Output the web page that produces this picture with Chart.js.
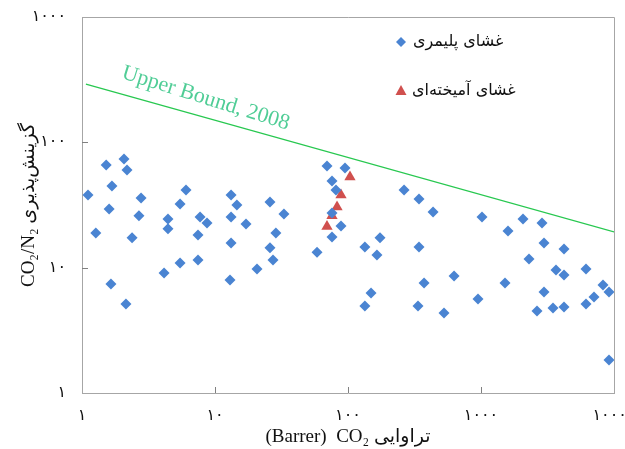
<!DOCTYPE html>
<html><head><meta charset="utf-8">
<style>html,body{margin:0;padding:0;background:#fff}#wrap{width:625px;height:449px}</style>
<script src="https://cdn.jsdelivr.net/npm/chart.js@4/dist/chart.umd.min.js"></script>
</head><body><div id="wrap"><canvas id="c" width="625" height="449"></canvas></div>
<script>
// ---- data ----
const polymerX = [1.11,1.27,1.52,1.60,1.68,1.65,2.07,2.18,2.14,2.38,2.68,2.78,4.14,4.43,4.43,5.46,5.46,6.05,7.45,7.45,7.72,8.71,
  13.2,14.6,13.2,17.1,13.2,12.96,20.7,25.9,33.0,28.7,25.9,27.3,58.5,69.5,94.9,75.8,81.2,75.8,88.6,75.8,
  134,174,165,149,134,264,342,436,342,373,336,627,527,949,1017,1515,1596,2069,2874,2976,2296,4209,3664,4209,6159,
  2976,2638,3479,4209,6159,7072,8267,9171,9171];
const polymerY = [38.0,18.9,66.0,29.4,44.9,7.41,73.7,60.2,5.13,17.3,25.9,36.0,9.07,24.5,20.4,32.2,10.9,41.7,18.2,11.5,25.4,22.7,
  38.0,31.6,25.4,22.3,15.7,7.98,9.76,33.4,26.8,18.9,14.4,11.5,13.3,64.8,62.5,49.2,41.7,27.3,21.5,17.6,
  14.6,17.3,12.6,6.28,4.95,41.7,35.3,27.8,14.6,7.55,4.95,8.58,4.35,5.63,25.4,7.55,19.6,24.5,22.7,15.7,11.7,14.1,9.58,8.74,9.76,
  6.40,4.51,4.77,4.86,5.13,5.84,7.28,6.40,1.83];
const mixedX = [103.5,88.6,82.7,75.8,69.5];
const mixedY = [52.9,38.0,30.5,25.9,21.3];
const boundX = [1.07,10000];
const boundY = [292,19.3];
const boundLabelAt = [1.96,326];
const xTicks = [1,10,100,1000,10000];
const xTickLabels = ['۱','۱۰','۱۰۰','۱۰۰۰','۱۰۰۰۰'];
const yTicks = [1,10,100,1000];
const yTickLabels = ['۱','۱۰','۱۰۰','۱۰۰۰'];
const seriesNames = ['غشای پلیمری','غشای آمیخته‌ای'];
const boundLabel = 'Upper Bound, 2008';
const xTitle = '(Barrer)  CO₂ تراوایی';
const yTitle = 'CO₂/N₂ گزینش‌پذیری';

const BLUE = 'rgb(74,132,210)';
const RED = 'rgb(208,80,78)';
const AXIS = '#a6a6a6';
const toPts = (xs, ys) => xs.map((x, i) => ({x, y: ys[i]}));

const extras = {
  id: 'extras',
  afterDraw(chart) {
    const {ctx, chartArea: a, scales: {x, y}} = chart;
    ctx.save();
    // frame top/right
    ctx.strokeStyle = AXIS; ctx.lineWidth = 1;
    ctx.beginPath();
    ctx.moveTo(a.left, a.top + 0.5); ctx.lineTo(a.right + 0.5, a.top + 0.5); ctx.lineTo(a.right + 0.5, a.bottom);
    ctx.stroke();
    // inward ticks
    ctx.strokeStyle = '#808080';
    ctx.beginPath();
    xTicks.slice(1, -1).forEach(v => { const px = Math.round(x.getPixelForValue(v)) + 0.5; ctx.moveTo(px, a.bottom); ctx.lineTo(px, a.bottom - 6); });
    yTicks.slice(1, -1).forEach(v => { const py = Math.round(y.getPixelForValue(v)) + 0.5; ctx.moveTo(a.left, py); ctx.lineTo(a.left + 6, py); });
    ctx.stroke();
    // upper bound label
    ctx.save();
    ctx.translate(x.getPixelForValue(boundLabelAt[0]), y.getPixelForValue(boundLabelAt[1]));
    ctx.rotate(17.3 * Math.PI / 180);
    ctx.fillStyle = 'rgb(80,205,150)';
    ctx.font = '22px "Liberation Serif", serif';
    ctx.textAlign = 'left'; ctx.textBaseline = 'alphabetic';
    ctx.fillText(boundLabel, 0, 0);
    ctx.restore();
    // legend
    const lx = a.left + 319, ly1 = a.top + 25, ly2 = a.top + 74;
    ctx.fillStyle = BLUE;
    ctx.beginPath(); ctx.moveTo(lx, ly1 - 5); ctx.lineTo(lx + 5, ly1); ctx.lineTo(lx, ly1 + 5); ctx.lineTo(lx - 5, ly1); ctx.closePath(); ctx.fill();
    ctx.fillStyle = RED;
    ctx.beginPath(); ctx.moveTo(lx, ly2 - 6); ctx.lineTo(lx + 5.5, ly2 + 4); ctx.lineTo(lx - 5.5, ly2 + 4); ctx.closePath(); ctx.fill();
    ctx.fillStyle = '#111';
    ctx.font = '16px "DejaVu Sans", sans-serif';
    ctx.textAlign = 'left'; ctx.textBaseline = 'middle';
    ctx.fillText(seriesNames[0], lx + 12, ly1);
    ctx.fillText(seriesNames[1], lx + 11, ly2);
    ctx.restore();
  }
};

new Chart(document.getElementById('c'), {
  type: 'scatter',
  data: {
    datasets: [
      {label: seriesNames[0], data: toPts(polymerX, polymerY), pointStyle: 'rectRot', pointRadius: 5.5, backgroundColor: BLUE, borderColor: BLUE, borderWidth: 0, clip: false},
      {label: seriesNames[1], data: toPts(mixedX, mixedY), pointStyle: 'triangle', pointRadius: 6.5, backgroundColor: RED, borderColor: RED, borderWidth: 0, clip: false},
      {label: 'bound', data: toPts(boundX, boundY), showLine: true, pointRadius: 0, borderColor: 'rgb(40,200,80)', borderWidth: 1.3, backgroundColor: 'rgb(40,200,80)'}
    ]
  },
  options: {
    responsive: false, animation: false, devicePixelRatio: 1,
    layout: {padding: {left: 0, top: 17, right: 11, bottom: 0}},
    plugins: {legend: {display: false}, tooltip: {enabled: false}},
    scales: {
      x: {
        type: 'logarithmic', min: 1, max: 10000,
        afterBuildTicks: s => { s.ticks = xTicks.map(v => ({value: v})); },
        afterFit: s => { s.height = 56; s.paddingLeft = 0; s.paddingRight = 0; },
        grid: {display: false, drawTicks: false},
        border: {display: true, color: AXIS, width: 1},
        ticks: {padding: 13, color: '#111', font: {family: '"DejaVu Sans", sans-serif', size: 16},
          maxRotation: 0, autoSkip: false,
          callback: v => xTickLabels[xTicks.indexOf(v)] ?? ''},
        title: {display: true, text: xTitle, color: '#111', padding: {top: 0, bottom: 1},
          font: {family: '"Liberation Serif", "DejaVu Sans", serif', size: 19}}
      },
      y: {
        type: 'logarithmic', min: 1, max: 1000,
        afterBuildTicks: s => { s.ticks = yTicks.map(v => ({value: v})); },
        afterFit: s => { s.width = 82; s.paddingTop = 0; s.paddingBottom = 0; },
        grid: {display: false, drawTicks: false},
        border: {display: true, color: AXIS, width: 1},
        ticks: {padding: 16, color: '#111', font: {family: '"DejaVu Sans", sans-serif', size: 16},
          autoSkip: false,
          callback: v => yTickLabels[yTicks.indexOf(v)] ?? ''},
        title: {display: true, text: yTitle, color: '#111', padding: {top: 18, bottom: 0},
          font: {family: '"Liberation Serif", "DejaVu Sans", serif', size: 19}}
      }
    }
  },
  plugins: [extras]
});
</script></body></html>
